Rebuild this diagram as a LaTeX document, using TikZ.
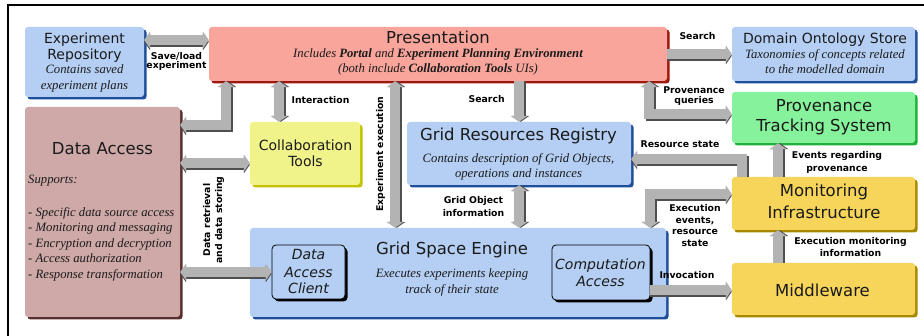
\documentclass[tikz,border=0pt]{standalone}
\usepackage{fontspec}
\newfontfamily\dvs{DejaVu Sans}
\newfontfamily\ser{Liberation Serif}
\usetikzlibrary{arrows.meta,shadows}
\definecolor{bxblue}{HTML}{B4CFF3}
\definecolor{bxblueS}{HTML}{1F4E9A}
\definecolor{bxred}{HTML}{F9A59B}
\definecolor{bxredS}{HTML}{A0170E}
\definecolor{bxgreen}{HTML}{86F29B}
\definecolor{bxgreenS}{HTML}{22B03A}
\definecolor{bxrose}{HTML}{CEA9A8}
\definecolor{bxroseS}{HTML}{5A2E2E}
\definecolor{bxyel}{HTML}{F0F28A}
\definecolor{bxyelS}{HTML}{C2C200}
\definecolor{bxgold}{HTML}{F7D55B}
\definecolor{bxgoldS}{HTML}{A78900}
\definecolor{arrfill}{HTML}{B3B3B3}
\definecolor{arrshade}{HTML}{4F4F4F}
\definecolor{txt}{HTML}{1A1A1A}
\tikzset{
  box/.style 2 args={rounded corners=3pt, inner sep=0pt, fill=#1,
    drop shadow={shadow xshift=2.5pt, shadow yshift=-2.5pt, fill=#2, opacity=1}},
  inbox/.style={rounded corners=4pt, inner sep=0pt, fill=bxblue, draw=black, line width=0.8pt,
    drop shadow={shadow xshift=2.5pt, shadow yshift=-2.5pt, fill=black, opacity=1}},
  ttl/.style={font=\dvs\fontsize{16.5}{19}\selectfont, inner sep=0pt, anchor=base, text=txt},
  ttm/.style={font=\dvs\fontsize{14}{16}\selectfont, inner sep=0pt, anchor=base, text=txt},
  obl/.style={font=\dvs\itshape\fontsize{14}{16}\selectfont, inner sep=0pt, anchor=base, text=txt},
  itx/.style={font=\ser\itshape\fontsize{12.7}{15}\selectfont, inner sep=0pt, anchor=base, text=txt},
  lbl/.style={font=\dvs\bfseries\fontsize{9.3}{11}\selectfont, inner sep=0pt, anchor=base},
  >={Triangle[width=17pt,length=6pt]},
  arrbody/.style={line width=10.5pt, draw=arrfill, line join=miter},
  arrshad/.style={line width=10.5pt, draw=arrshade, line join=miter, xshift=1.8pt, yshift=-1.8pt},
}
\newcommand\blockarrow[2]{\draw[arrshad,#1] #2; \draw[arrbody,#1] #2;}
\begin{document}
\begin{tikzpicture}[x=1pt,y=-1pt]
\useasboundingbox (0,0) rectangle (924,336);
\fill[white] (0,0) rectangle (924,336);
\draw[line width=2pt] (8,336) -- (8,5.5) -- (924,5.5);

% boxes
\node[box={bxblue}{bxblueS}, minimum width=119pt, minimum height=70pt] (exprepo) at (84.5,62) {};
\node[box={bxred}{bxredS}, minimum width=458pt, minimum height=54pt] (pres) at (438,54) {};
\node[box={bxblue}{bxblueS}, minimum width=183pt, minimum height=54pt] (dos) at (823.5,54) {};
\node[box={bxgreen}{bxgreenS}, minimum width=183pt, minimum height=51pt] (pts) at (823.5,117.5) {};
\node[box={bxrose}{bxroseS}, minimum width=155pt, minimum height=210pt] (dataacc) at (102.5,212) {};
\node[box={bxyel}{bxyelS}, minimum width=110pt, minimum height=63pt] (collab) at (305,153.5) {};
\node[box={bxblue}{bxblueS}, minimum width=224pt, minimum height=63pt] (grr) at (519,153.5) {};
\node[box={bxgold}{bxgoldS}, minimum width=183pt, minimum height=53pt] (mon) at (823.5,203.5) {};
\node[box={bxblue}{bxblueS}, minimum width=416pt, minimum height=89pt] (gse) at (458,272.5) {};
\node[inbox, minimum width=73pt, minimum height=54pt] (dac) at (308.5,272) {};
\node[inbox, minimum width=98pt, minimum height=55pt] (compacc) at (601,272.5) {};
\node[box={bxgold}{bxgoldS}, minimum width=183pt, minimum height=52pt] (mw) at (823.5,289) {};

% box texts
\node[ttm] (er1) at (84.5,43.3) {Experiment};
\node[ttm] (er2) at (84.5,60) {Repository};
\node[itx] (er3) at (84.5,74) {Contains saved};
\node[itx] (er4) at (84.5,90) {experiment plans};

\node[ttl] (pr1) at (438,43.3) {Presentation};
\node[itx] (pr2) at (438,57.3) {Includes \textbf{Portal} and \textbf{Experiment Planning Environment}};
\node[itx] (pr3) at (438,73) {(both include \textbf{Collaboration Tools} UIs)};

\node[ttm] (do1) at (825,43.3) {Domain Ontology Store};
\node[itx] (do2) at (825,59) {Taxonomies of concepts related};
\node[itx] (do3) at (825,74) {to the modelled domain};

\node[ttl] (pt1) at (824,111.7) {Provenance};
\node[ttl] (pt2) at (824,131.7) {Tracking System};

\node[ttl] (da1) at (102.5,155) {Data Access};
\node[itx, anchor=base west] (da2) at (28,183.3) {Supports:};
\node[itx, anchor=base west] (da3) at (28,216.7) {- Specific data source access};
\node[itx, anchor=base west] (da4) at (28,231.7) {- Monitoring and messaging};
\node[itx, anchor=base west] (da5) at (28,247.5) {- Encryption and decryption};
\node[itx, anchor=base west] (da6) at (28,262.5) {- Access authorization};
\node[itx, anchor=base west] (da7) at (28,278.3) {- Response transformation};

\node[ttm] (co1) at (305.5,151) {Collaboration};
\node[ttm] (co2) at (305.5,166.7) {Tools};

\node[ttl] (gr1) at (518.5,140.7) {Grid Resources Registry};
\node[itx] (gr2) at (518.5,162.3) {Contains description of Grid Objects,};
\node[itx] (gr3) at (518.5,177.3) {operations and instances};

\node[ttl] (mo1) at (824,196.7) {Monitoring};
\node[ttl] (mo2) at (824,218.3) {Infrastructure};

\node[ttl] (gs1) at (452,255) {Grid Space Engine};
\node[itx] (gs2) at (452,277.3) {Executes experiments keeping};
\node[itx] (gs3) at (452,293.3) {track of their state};

\node[obl] (dc1) at (308.5,260) {Data};
\node[obl] (dc2) at (308.5,277.3) {Access};
\node[obl] (dc3) at (308.5,294) {Client};

\node[obl] (ca1) at (600.5,270) {Computation};
\node[obl] (ca2) at (600.5,286.7) {Access};

\node[ttl] (mw1) at (822.5,296.7) {Middleware};

% arrows
\blockarrow{<->}{(exprepo.east |- 0,40) -- (pres.west |- 0,40)}
\blockarrow{<->}{(pres.south -| 226,0) -- (226,125) -- (dataacc.east |- 0,125)}
\blockarrow{<->}{(pres.south -| 279,0) -- (collab.north -| 279,0)}
\blockarrow{<->}{(dataacc.east |- 0,163) -- (collab.west |- 0,163)}
\blockarrow{<->}{(pres.south -| 395,0) -- (gse.north -| 395,0)}
\blockarrow{->}{(pres.south -| 519,0) -- (grr.north -| 519,0)}
\blockarrow{<->}{(grr.south -| 519,0) -- (gse.north -| 519,0)}
\blockarrow{->}{(pres.east |- 0,54) -- (dos.west |- 0,54)}
\blockarrow{<->}{(pres.south -| 649,0) -- (649,114) -- (pts.west |- 0,114)}
\blockarrow{->}{(mon.north -| 742,0) -- (742,159) -- (grr.east |- 0,159)}
\blockarrow{<->}{(gse.north -| 650,0) -- (650,194) -- (mon.west |- 0,194)}
\blockarrow{->}{(mon.north -| 778,0) -- (pts.south -| 778,0)}
\blockarrow{->}{(mw.north -| 778,0) -- (mon.south -| 778,0)}
\blockarrow{->}{(compacc.east |- 0,290) -- (mw.west |- 0,290)}
\blockarrow{<->}{(dataacc.east |- 0,272) -- (dac.west |- 0,272)}

% labels
\node[lbl] (l1a) at (176.5,60) {Save/load};
\node[lbl] (l1b) at (176.5,68.5) {experiment};
\node[lbl] (l2) at (320.5,103.3) {Interaction};
\node[lbl] (l3) at (486.7,102.7) {Search};
\node[lbl] (l4) at (697.5,39.3) {Search};
\node[lbl] (l5a) at (694,93.3) {Provenance};
\node[lbl] (l5b) at (694,104) {queries};
\node[lbl] (l6) at (680,147.3) {Resource state};
\node[lbl] (l7a) at (473.5,204) {Grid Object};
\node[lbl] (l7b) at (473.5,216.7) {information};
\node[lbl] (l8a) at (837,158.3) {Events regarding};
\node[lbl] (l8b) at (837,171.7) {provenance};
\node[lbl] (l9a) at (695,211.7) {Execution};
\node[lbl] (l9b) at (695,223.3) {events,};
\node[lbl] (l9c) at (695,235) {resource};
\node[lbl] (l9d) at (695,246.7) {state};
\node[lbl] (l10a) at (850.5,245) {Execution monitoring};
\node[lbl] (l10b) at (850.5,256.7) {information};
\node[lbl] (l11) at (687,278.3) {Invocation};
\node[lbl, rotate=90] (l12) at (383,154) {Experiment execution};
\node[lbl, rotate=90] (l13a) at (210,220) {Data retrieval};
\node[lbl, rotate=90] (l13b) at (222,220) {and data storing};
\end{tikzpicture}
\end{document}
